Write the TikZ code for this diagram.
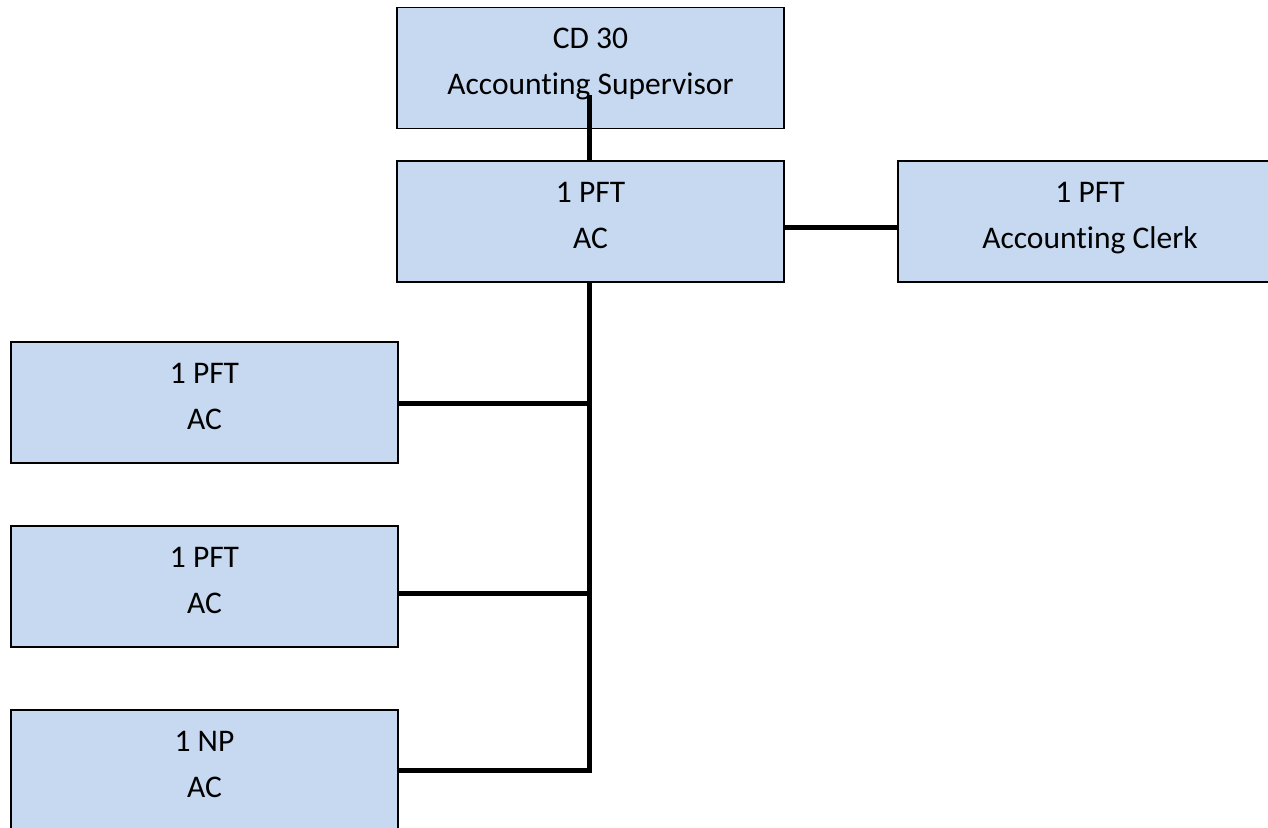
\documentclass[tikz,border=0pt]{standalone}
\usepackage{fontspec}
\setmainfont{Carlito}[Ligatures=NoCommon]
\definecolor{boxblue}{HTML}{C6D9F1}
% extra depth under the last line lifts the two text lines a little above the box centre
\newcommand\descpad{\rule[-13pt]{0pt}{0pt}}
\begin{document}
\begin{tikzpicture}[x=1pt,y=-1pt,
  orgbox/.style={draw=black, line width=1.3pt, fill=boxblue,
    minimum width=387pt, minimum height=121pt, inner sep=0pt,
    align=center, font=\fontsize{31.5}{46}\selectfont},
  link/.style={line width=5pt, line join=miter}]
\useasboundingbox (0,0) rectangle (1268,827);

% positions
\node[orgbox] (sup) at (590.5,68) {CD 30\\Accounting Supervisor\descpad};
\node[orgbox] (ac) at (590.5,221.5) {1 PFT\\AC\descpad};
\node[orgbox, minimum width=400pt] (clerk) at (1098,221.5) {\hspace*{-16pt}1 PFT\\\hspace*{-16pt}Accounting Clerk\descpad};
\node[orgbox] (b1) at (204.5,402.5) {1 PFT\\AC\descpad};
\node[orgbox] (b2) at (204.5,586.5) {1 PFT\\AC\descpad};
\node[orgbox] (b3) at (204.5,770.5) {1 NP\\AC\descpad};

% connectors
\coordinate (supjoin) at (589,95);
\draw[link] (supjoin) -- (supjoin |- ac.north);
\draw[link] ([yshift=-5.5pt]ac.east) -- ([yshift=-5.5pt]clerk.west);
\draw[link] (supjoin |- ac.south) -- (supjoin |- b3.east) -- (b3.east);
\draw[link] ([yshift=-1pt]b1.east) -- ([yshift=-1pt]supjoin |- b1.east);
\draw[link] ([yshift=-7pt]b2.east) -- ([yshift=-7pt]supjoin |- b2.east);
\end{tikzpicture}
\end{document}
